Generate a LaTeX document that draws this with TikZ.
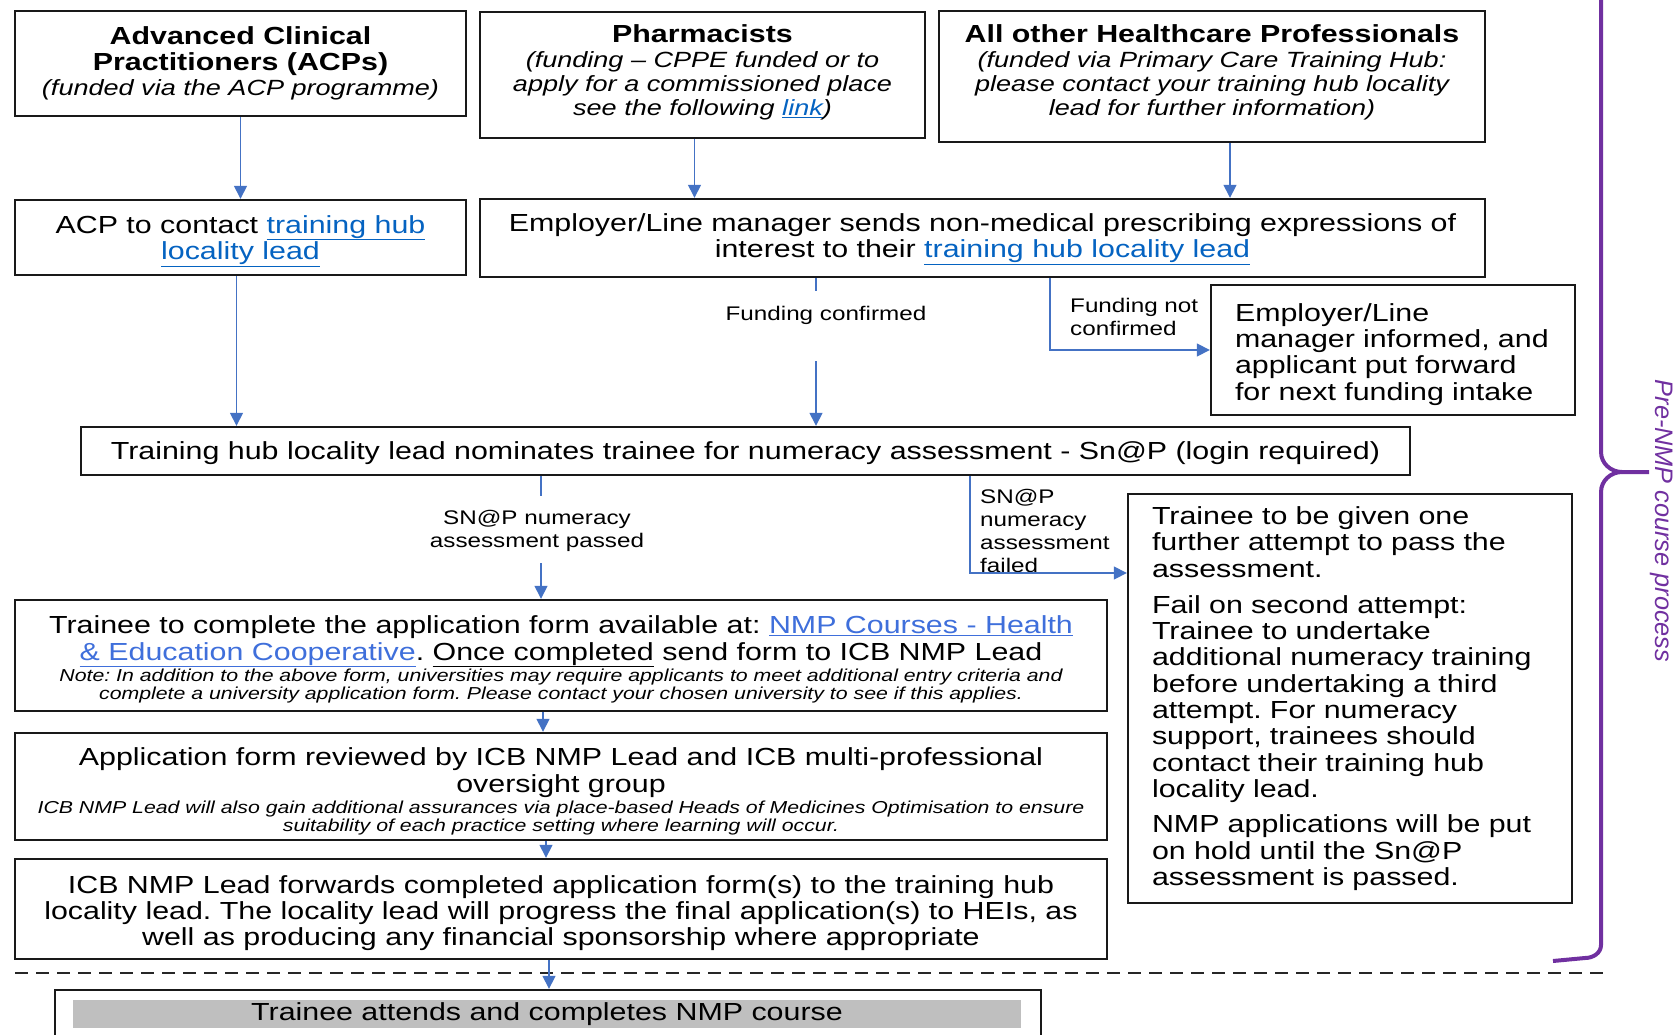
\documentclass[tikz,border=0pt]{standalone}
\usepackage{fontspec}
\setmainfont{Liberation Sans}[FakeStretch=1.23]
\newfontfamily\sidefont{Liberation Sans}
\usetikzlibrary{arrows.meta}
\frenchspacing

\definecolor{flowblue}{HTML}{4472C4}
\definecolor{linkblue}{HTML}{0563C1}
\definecolor{courseblue}{HTML}{3F6FDB}
\definecolor{bracepurple}{HTML}{7030A0}

\newcommand{\undl}[1]{\underline{#1}}
\newcommand{\hub}[1]{\textcolor{linkblue}{\undl{#1}}}
\newcommand{\crs}[1]{\textcolor{courseblue}{\undl{#1}}}
\newcommand{\subsz}{\fontsize{22}{26}\selectfont\itshape}
\newcommand{\notesz}{\fontsize{17.3}{19.5}\selectfont\itshape}
% struts to nudge text inside fixed boxes
\newcommand{\tstr}[1]{\rule{0pt}{#1}}
\newcommand{\bstr}[1]{\rule[-#1]{0pt}{0pt}}

\tikzset{
  box/.style={draw=black!90, line width=2.4pt, inner sep=2pt, align=center,
    font=\fontsize{24.7}{26.3}\selectfont},
  flow/.style={draw=flowblue, line width=1.5pt, -{Triangle[length=13pt,width=13pt]}},
  flowline/.style={draw=flowblue, line width=1.5pt},
  lbl/.style={font=\fontsize{19.7}{23}\selectfont, align=left, inner sep=0pt},
}

\begin{document}
\begin{tikzpicture}[x=1pt,y=-1pt]
    \useasboundingbox (0,0) rectangle (1677,1035);
    \clip (0,0) rectangle (1677,1035);

    % who applies
    \node [box, minimum width=451pt, minimum height=105pt] (acp) at (240.5,63.5)
        {\textbf{Advanced Clinical}\\\textbf{Practitioners (ACPs)}\\[-1pt]{\subsz(funded via the ACP programme)}};
    \node [box, minimum width=445pt, minimum height=126pt] (pharm) at (702.5,75)
        {\textbf{Pharmacists}\\[-2pt]{\subsz(funding – CPPE funded or to}\\[-2pt]{\subsz apply for a commissioned place}\\[-2pt]{\subsz see the following \hub{link})\bstr{9pt}}};
    \node [box, minimum width=546pt, minimum height=131pt] (hcp) at (1212,76.5)
        {\textbf{All other Healthcare Professionals}\\[-2pt]{\subsz(funded via Primary Care Training Hub:}\\[-2pt]{\subsz please contact your training hub locality}\\[-2pt]{\subsz lead for further information)\bstr{12pt}}};

    % first contact
    \node [box, minimum width=451pt, minimum height=75pt] (acpc) at (240.5,237.5)
        {\tstr{24.5pt}ACP to contact \hub{training hub}\\\hub{locality lead}};
    \node [box, minimum width=1005pt, minimum height=78pt] (emp) at (982.5,238)
        {\tstr{20pt}Employer/Line manager sends non-medical prescribing expressions of\\interest to their \hub{training hub locality lead}};
    \node [box, align=left, text width=316pt, inner xsep=24pt, minimum height=130pt] (info) at (1393,350)
        {\tstr{26.5pt}Employer/Line\\manager informed, and\\applicant put forward\\for next funding intake};

    % numeracy
    \node [box, minimum width=1329pt, minimum height=48pt] (nom) at (745.5,451)
        {\tstr{22pt}Training hub locality lead nominates trainee for numeracy assessment - Sn@P (login required)};
    \node [box, align=left, text width=396pt, inner xsep=24pt, minimum height=409pt] (further) at (1350,698.5)
        {Trainee to be given one\\further attempt to pass the\\assessment.\\[10pt]Fail on second attempt:\\Trainee to undertake\\additional numeracy training\\before undertaking a third\\attempt. For numeracy\\support, trainees should\\contact their training hub\\locality lead.\\[9pt]NMP applications will be put\\on hold until the Sn@P\\assessment is passed.};

    % application
    \node [box, minimum width=1092pt, minimum height=111pt] (app) at (561,655.5)
        {\tstr{26pt}Trainee to complete the application form available at: \crs{NMP Courses - Health}\\\crs{\& Education Cooperative}. \undl{Once completed} send form to ICB NMP Lead\\[-5pt]{\notesz Note: In addition to the above form, universities may require applicants to meet additional entry criteria and}\\[-8pt]{\notesz complete a university application form. Please contact your chosen university to see if this applies.}};
    \node [box, minimum width=1092pt, minimum height=107pt] (rev) at (561,786.5)
        {\tstr{28pt}Application form reviewed by ICB NMP Lead and ICB multi-professional\\oversight group\\[-5pt]{\notesz ICB NMP Lead will also gain additional assurances via place-based Heads of Medicines Optimisation to ensure}\\[-8pt]{\notesz suitability of each practice setting where learning will occur.}};
    \node [box, minimum width=1092pt, minimum height=100pt] (fwd) at (561,909)
        {\tstr{26pt}ICB NMP Lead forwards completed application form(s) to the training hub\\locality lead. The locality lead will progress the final application(s) to HEIs, as\\well as producing any financial sponsorship where appropriate};

    % course
    \node [box, minimum width=986pt, minimum height=70pt] (coursebox) at (548,1025) {};
    \node [fill=black!25, minimum width=948pt, minimum height=28pt, inner sep=0pt,
        font=\fontsize{24.7}{26.3}\selectfont] (course) at (547,1014) {Trainee attends and completes NMP course};

    \draw[black!85, line width=2pt, dash pattern=on 13pt off 8pt] (15,973) -- (1604,973);

    % labels
    \node [lbl] (fundok) at (826,315) {Funding confirmed};
    \node [lbl, anchor=west] (nofund) at (1070,316.5) {Funding not\\confirmed};
    \node [lbl, align=center] (passed) at (537,531) {SN@P numeracy\\assessment passed};
    \node [lbl, anchor=west] (failed) at (980,531) {SN@P\\numeracy\\assessment\\failed};

    % arrows
    \coordinate (phout) at ([xshift=-8pt]pharm.south);
    \coordinate (hcpout) at ([xshift=18pt]hcp.south);
    \coordinate (acpout) at ([xshift=-4pt]acpc.south);
    \draw[flow] (acp) -- (acpc);
    \draw[flow] (phout) -- (phout |- emp.north);
    \draw[flow] (hcpout) -- (hcpout |- emp.north);
    \draw[flow] (acpout) -- (acpout |- nom.north);

    \coordinate (okA) at (816,291);
    \coordinate (okB) at (816,361);
    \draw[flowline] (emp.south -| okA) -- (okA);
    \draw[flow] (okB) -- (okB |- nom.north);
    \coordinate (nf) at (1050,347);
    \draw[flow] (emp.south -| nf) |- (info.west);

    \coordinate (psA) at (541,496);
    \coordinate (psB) at (541,563);
    \draw[flowline] (nom.south -| psA) -- (psA);
    \draw[flow] (psB) -- (psB |- app.north);
    \coordinate (fl) at (970,573);
    \draw[flow] (nom.south -| fl) |- (further.west |- fl);

    \coordinate (c1) at (543,720);
    \coordinate (c2) at (546,850);
    \coordinate (c3) at (549,975);
    \draw[flow] (app.south -| c1) -- (rev.north -| c1);
    \draw[flow] (rev.south -| c2) -- (fwd.north -| c2);
    \draw[flow] (fwd.south -| c3) -- (coursebox.north -| c3);

    % brace
    \draw[bracepurple, line width=4pt] (1601,-20) -- (1601,452) to[out=-90,in=180] (1622,472) -- (1649,472);
    \draw[bracepurple, line width=4pt] (1622,472) to[out=180,in=90] (1601,492) -- (1601,945) to[out=-90,in=0] (1585,958) -- (1553,961);
    \node [rotate=-90, text=bracepurple, font=\sidefont\fontsize{25.3}{28}\selectfont\itshape] (prenmp) at (1662,521) {Pre-NMP course process};

\end{tikzpicture}
\end{document}
